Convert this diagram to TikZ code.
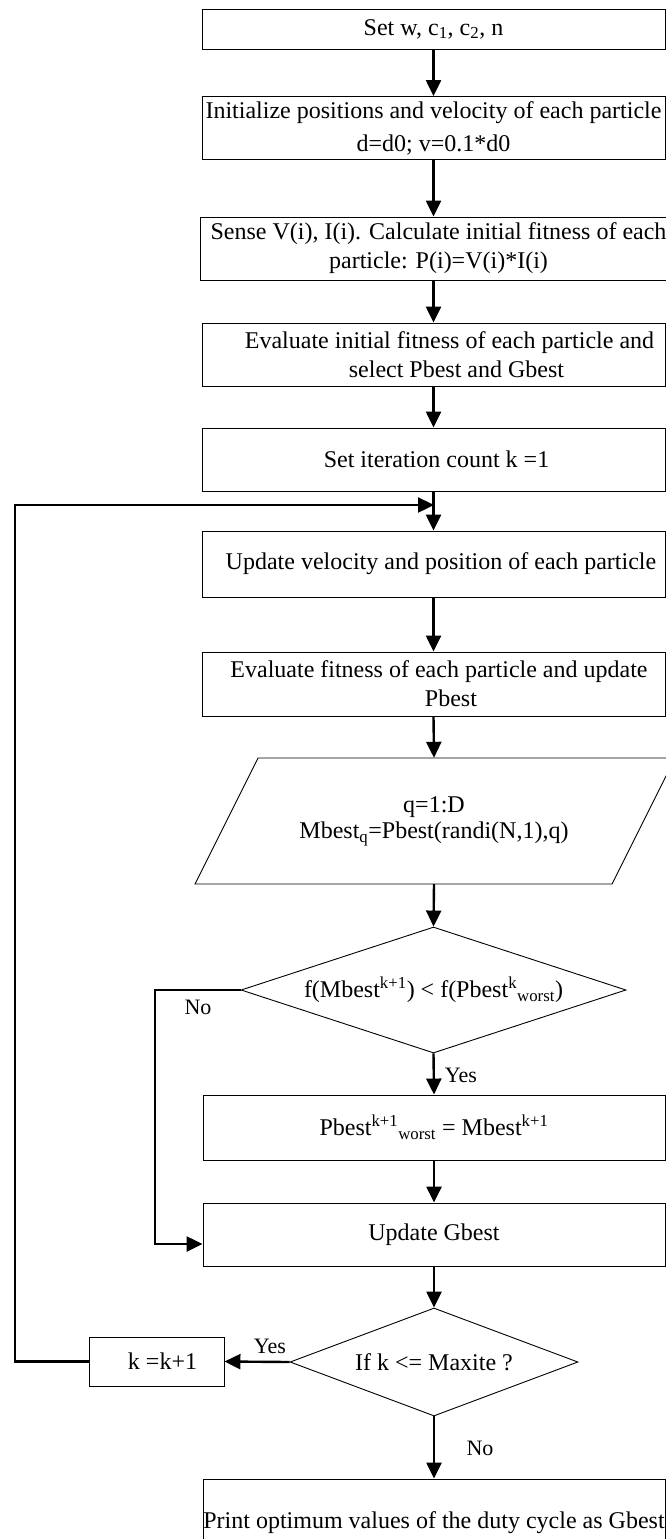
\documentclass[tikz,border=0pt]{standalone}
\usepackage{fontspec}
\setmainfont{Liberation Serif}
\usetikzlibrary{arrows.meta,shapes.geometric}
\begin{document}
\begin{tikzpicture}[x=1pt,y=-1pt,
  box/.style={draw, line width=0.9pt, minimum width=463pt, inner sep=0pt, align=center, font=\fontsize{24}{29}\selectfont},
  dia/.style={draw, diamond, line width=0.9pt, inner sep=0pt, align=center, font=\fontsize{24}{29}\selectfont},
  shp/.style={draw, line width=0.9pt, line join=miter},
  arr/.style={line width=2.4pt, -{Triangle[length=16pt,width=15pt]}},
  lbl/.style={font=\fontsize{22}{26}\selectfont, inner sep=0pt}]
\useasboundingbox (0,0) rectangle (666,1539);
\clip (0,0) rectangle (666,1539);

\node[box, minimum height=40pt] (b1) at (433.5,29) {Set w, c\textsubscript{1}, c\textsubscript{2}, n};
\node[box, minimum height=63pt] (b2) at (433.5,128) {Initialize positions and velocity of each particle\\[4pt]d=d0; v=0.1*d0};
\node[box, minimum height=63pt] (b3) at (433.5,248.5) {\hspace*{10pt}Sense V(i), I(i). Calculate initial fitness of each\\\hspace*{10pt}particle: P(i)=V(i)*I(i)};
\node[box, minimum height=63pt] (b4) at (433.5,354.5) {\hspace*{32pt}Evaluate initial fitness of each particle and\\\hspace*{46pt}select Pbest and Gbest};
\node[box, minimum height=63pt] (b5) at (433.5,459.5) {\hspace*{6pt}Set iteration count k =1};
\node[box, minimum height=66pt] (b6) at (433.5,564) {\hspace*{15pt}Update velocity and position of each particle};
\node[box, minimum height=64pt] (b7) at (433.5,684) {\hspace*{11pt}Evaluate fitness of each particle and update\\\hspace*{35pt}Pbest};

\node[minimum height=126pt, minimum width=300pt, inner sep=0pt, align=center, font=\fontsize{24}{26}\selectfont] (io) at (434,821) {q=1:D\\Mbest\textsubscript{q}=Pbest(randi(N,1),q)};
\draw[shp] (258,758) -- (675,758) -- (612,884) -- (195,884) -- cycle;

\node[dia, aspect=3.06, minimum width=385pt, minimum height=126pt] (d1) at (433.5,990) {f(Mbest\textsuperscript{k+1}) {\textless} f(Pbest\textsuperscript{k}\textsubscript{worst})};
\node[box, minimum height=65pt, minimum width=462pt] (b8) at (434,1127.5) {Pbest\textsuperscript{k+1}\textsubscript{worst} = Mbest\textsuperscript{k+1}};
\node[box, minimum height=63pt, minimum width=462pt] (b9) at (434,1234.5) {Update Gbest};
\node[dia, aspect=2.67, minimum width=288pt, minimum height=108pt] (d2) at (434,1362) {If k {\textless}= Maxite ?};
\node[box, minimum height=49pt, minimum width=135pt] (kb) at (156.5,1361.5) {\hspace*{12pt}k =k+1};
\node[box, minimum height=88pt, minimum width=462pt] (b10) at (434,1523) {Print optimum values of the duty cycle as Gbest};

\coordinate (loopin) at (434,505);
\coordinate (lc1) at (15,1361.5);
\coordinate (lc2) at (15,505);
\coordinate (nc1) at (155,990);
\coordinate (nc2) at (155,1244);

\draw[arr] (b1) -- (b2);
\draw[arr] (b2) -- (b3);
\draw[arr] (b3) -- (b4);
\draw[arr] (b4) -- (b5);
\draw[arr] (b5) -- (b6);
\draw[arr] (b6) -- (b7);
\draw[arr] (b7.south) -- (io.north);
\draw[arr] (io.south) -- (d1.north);
\draw[arr] (d1.south) -- (b8.north);
\draw[arr] (b8) -- (b9);
\draw[arr] (b9.south) -- (d2.north);
\draw[arr] (d2.west) -- (kb.east);
\draw[arr] (d2.south) -- (b10.north);
\draw[arr, line join=miter] (kb.west) -- (lc1) -- (lc2) -- (loopin);
\draw[arr, line join=miter] (d1.west) -- (nc1) -- (nc2) -- (b9.west |- nc2);

\node[lbl] (no1) at (198,1007) {No};
\node[lbl] (yes1) at (461,1075) {Yes};
\node[lbl] (yes2) at (270,1346) {Yes};
\node[lbl] (no2) at (480,1448) {No};
\end{tikzpicture}
\end{document}
